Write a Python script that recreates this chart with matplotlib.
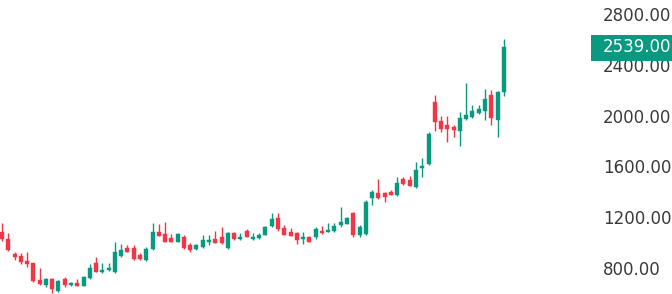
import matplotlib
matplotlib.use("Agg")
import matplotlib.pyplot as plt
from matplotlib.patches import Rectangle
from matplotlib.transforms import blended_transform_factory
import numpy as np

opens = [1086, 1028, 908, 897, 857, 837, 706, 662, 713, 617,
         716, 662, 682, 661, 721, 839, 766, 784, 772, 897,
         955, 957, 902, 859, 946, 1080, 1068, 1039, 1007, 1040,
         977, 947, 968, 1007, 1026, 1042, 955, 1073, 1026, 1094,
         1028, 1034, 1060, 1131, 1191, 1111, 1086, 1076, 1026, 1046,
         1040, 1095, 1085, 1094, 1139, 1148, 1235, 1060, 1068, 1349,
         1394, 1388, 1398, 1375, 1497, 1493, 1438, 1585, 1615, 2109,
         1961, 1926, 1908, 1881, 1971, 1987, 2018, 2039, 2162, 1965,
         2188]
highs = [1154, 1073, 928, 916, 924, 842, 800, 721, 719, 706,
         731, 692, 713, 737, 829, 883, 842, 839, 1001, 989,
         981, 977, 918, 965, 1152, 1144, 1165, 1068, 1076, 1060,
         997, 989, 1060, 1060, 1094, 1125, 1086, 1086, 1076, 1107,
         1073, 1073, 1131, 1235, 1231, 1139, 1111, 1087, 1086, 1052,
         1119, 1127, 1156, 1152, 1283, 1204, 1243, 1139, 1335, 1414,
         1497, 1398, 1410, 1513, 1519, 1528, 1635, 1664, 1873, 2162,
         1997, 1997, 1926, 2031, 2254, 2083, 2083, 2207, 2202, 2196,
         2601]
lows = [1015, 934, 863, 829, 810, 687, 666, 653, 601, 611,
        653, 658, 658, 658, 713, 766, 758, 776, 758, 889,
        922, 863, 863, 851, 938, 1048, 1001, 1001, 1001, 950,
        922, 938, 961, 981, 993, 989, 950, 1020, 1020, 1040,
        1024, 1028, 1056, 1123, 1091, 1056, 1048, 985, 989, 1001,
        1032, 1068, 1080, 1087, 1125, 1143, 1046, 1042, 1060, 1292,
        1343, 1322, 1371, 1367, 1457, 1442, 1430, 1514, 1607, 1881,
        1873, 1794, 1829, 1761, 1965, 1981, 2013, 1965, 1926, 1829,
        2154]
closes = [1026, 942, 889, 850, 834, 698, 672, 716, 631, 698,
          666, 682, 661, 731, 798, 771, 784, 800, 926, 942,
          928, 871, 869, 950, 1086, 1054, 1007, 1007, 1064, 955,
          942, 981, 1020, 1020, 999, 994, 1073, 1026, 1042, 1046,
          1046, 1060, 1125, 1186, 1103, 1060, 1052, 1020, 1046, 1007,
          1103, 1073, 1101, 1127, 1162, 1191, 1056, 1125, 1322, 1401,
          1349, 1355, 1375, 1467, 1461, 1446, 1572, 1603, 1857, 1950,
          1891, 1892, 1887, 1979, 2005, 2039, 2050, 2131, 1979, 2188,
          2539]

price_ticks = [800, 1200, 1600, 2000, 2400, 2800]
tick_labels = ["800.00", "1200.00", "1600.00", "2000.00", "2400.00", "2800.00"]
last_price = 2539.00
last_label = "2539.00"

UP = "#089981"
DOWN = "#F23645"

W, H = 672, 294
fig = plt.figure(figsize=(W / 100, H / 100), dpi=100)
ax_right = 591
ax = fig.add_axes([0, 0, ax_right / W, 1])

o = np.array(opens, float)
h = np.array(highs, float)
l = np.array(lows, float)
c = np.array(closes, float)
x = np.arange(len(o))
cols = [UP if cc >= oo else DOWN for oo, cc in zip(o, c)]

ax.vlines(x, l, h, colors=cols, linewidth=1.0, zorder=2)
bottoms = np.minimum(o, c)
heights = np.maximum(np.abs(c - o), 4)
ax.bar(x, heights, bottom=bottoms, width=0.64, color=cols, edgecolor=cols,
       linewidth=0.3, zorder=3)

ax.set_xlim(-0.32, 93.9)
ax.set_ylim(595, 2910)

for s in ax.spines.values():
    s.set_visible(False)
ax.set_xticks([])
ax.yaxis.tick_right()
ax.set_yticks(price_ticks)
ax.set_yticklabels(tick_labels)
ax.tick_params(axis="y", length=0, pad=8.6, labelsize=12, labelcolor="#3a3a3a")

tr = blended_transform_factory(ax.transAxes, ax.transData)
box_w = (W - ax_right) / ax_right
ax.add_patch(Rectangle((1.0, 2430), box_w, 205, transform=tr, facecolor=UP,
                       edgecolor="none", clip_on=False, zorder=10))
ax.text(1.0 + 12 / ax_right, last_price, last_label, transform=tr, color="white",
        fontsize=12, va="center", ha="left", zorder=11, clip_on=False)

fig.savefig("out.png", dpi=100)
